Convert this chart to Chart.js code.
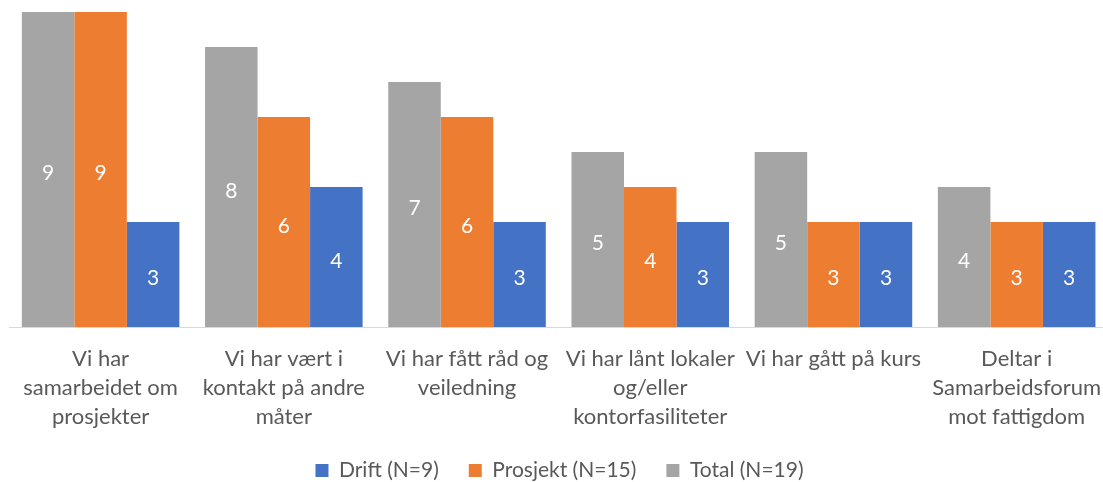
<!DOCTYPE html>
<html>
<head>
<meta charset="utf-8">
<script src="https://cdn.jsdelivr.net/npm/chart.js@4/dist/chart.umd.min.js"></script>
<style>
  html, body { margin: 0; padding: 0; background: #fff; overflow: hidden; }
  #wrap { position: relative; width: 1120px; height: 482px; }
</style>
</head>
<body>
<div id="wrap"><canvas id="barChart"></canvas></div>
<script>
// categories (multi-line labels, as in the original)
var categories = [
    ["Vi har", "samarbeidet om", "prosjekter"],
    ["Vi har vært i", "kontakt på andre", "måter"],
    ["Vi har fått råd og", "veiledning"],
    ["Vi har lånt lokaler", "og/eller", "kontorfasiliteter"],
    ["Vi har gått på kurs"],
    ["Deltar i", "Samarbeidsforum", "mot fattigdom"]
];

var totalValues    = [9, 8, 7, 5, 5, 4];
var prosjektValues = [9, 6, 6, 4, 3, 3];
var driftValues    = [3, 4, 3, 3, 3, 3];

var seriesNames = ["Total (N=19)", "Prosjekt (N=15)", "Drift (N=9)"];

var fontName = "Lato, 'Open Sans', sans-serif";

// draws the value in the middle of each bar
var barValues = {
    id: 'barValues',
    afterDatasetsDraw: function (chart) {
        var ctx = chart.ctx;
        ctx.save();
        ctx.font = "21px " + fontName;
        ctx.fillStyle = "#ffffff";
        ctx.textAlign = "center";
        ctx.textBaseline = "middle";
        chart.data.datasets.forEach(function (ds, i) {
            var meta = chart.getDatasetMeta(i);
            meta.data.forEach(function (bar, j) {
                ctx.fillText(ds.data[j], bar.x, (bar.y + bar.base) / 2 + 4);
            });
        });
        ctx.restore();
    }
};

var barData = {
    labels: categories,
    datasets: [
        { label: seriesNames[0], data: totalValues,    backgroundColor: "#A5A5A5" },
        { label: seriesNames[1], data: prosjektValues, backgroundColor: "#ED7D31" },
        { label: seriesNames[2], data: driftValues,    backgroundColor: "#4472C4" }
    ]
};

var barOptions = {
    responsive: true,
    maintainAspectRatio: false,
    animation: false,
    layout: { padding: { top: 12, left: 9, right: 10, bottom: -9 } },
    datasets: { bar: { barPercentage: 1.0, categoryPercentage: 0.86 } },
    scales: {
        y: { display: false, min: 0, max: 9 },
        x: {
            grid: { display: false, drawTicks: false },
            border: { display: true, color: "#D9D9D9", width: 1 },
            ticks: {
                color: "#595959",
                padding: 18,
                maxRotation: 0,
                autoSkip: false,
                font: { family: fontName, size: 22, lineHeight: 1.3 }
            },
            afterFit: function (scale) { scale.height = 103; }
        }
    },
    plugins: {
        legend: {
            position: 'bottom',
            reverse: true,
            labels: {
                color: "#595959",
                boxWidth: 13,
                boxHeight: 13,
                padding: 30,
                font: { family: fontName, size: 21 }
            }
        },
        tooltip: { enabled: false }
    }
};

var ctx = document.getElementById("barChart").getContext("2d");
new Chart(ctx, { type: 'bar', data: barData, options: barOptions, plugins: [barValues] });
</script>
</body>
</html>
